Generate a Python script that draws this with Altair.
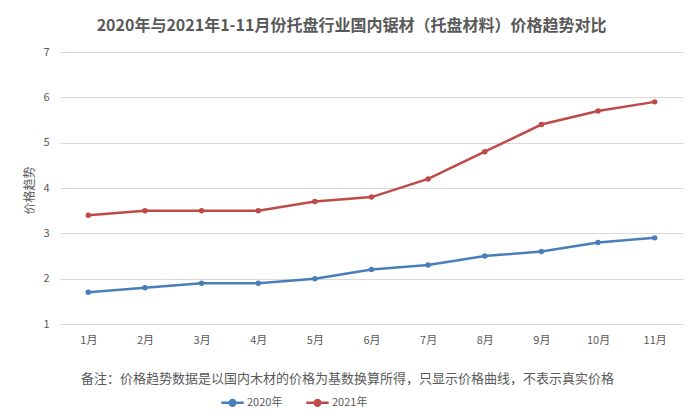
import altair as alt
import pandas as pd

months = ["1月", "2月", "3月", "4月", "5月", "6月", "7月", "8月", "9月", "10月", "11月"]
values_2020 = [1.7, 1.8, 1.9, 1.9, 2.0, 2.2, 2.3, 2.5, 2.6, 2.8, 2.9]
values_2021 = [3.4, 3.5, 3.5, 3.5, 3.7, 3.8, 4.2, 4.8, 5.4, 5.7, 5.9]
y_ticks = [1, 2, 3, 4, 5, 6, 7]
series_names = ["2020年", "2021年"]
colors = ["#4A7EBB", "#BE4B48"]

rows = []
for name, vals in zip(series_names, [values_2020, values_2021]):
    for m, v in zip(months, vals):
        rows.append({"月份": m, "价格": v, "年份": name})
df = pd.DataFrame(rows)

FONT = "Noto Sans CJK SC"
GREY = "#595959"

symbol_path = "M-1,0L1,0 M-0.25,0A0.25,0.25 0 1,1 0.25,0A0.25,0.25 0 1,1 -0.25,0Z"

chart = alt.Chart(df).mark_line(
    strokeWidth=2.5,
    point=alt.OverlayMarkDef(size=30, filled=True),
).encode(
    x=alt.X("月份:N", sort=months, scale=alt.Scale(paddingInner=0, paddingOuter=0),
            axis=alt.Axis(title="备注：价格趋势数据是以国内木材的价格为基数换算所得，只显示价格曲线，不表示真实价格",
                          labelAngle=0, domain=False, ticks=False, grid=False,
                          labelColor=GREY, labelFontSize=11, labelFont=FONT, labelPadding=10,
                          titleX=287, titleY=54, titleBaseline="middle", titleAnchor="middle",
                          titleFont=FONT, titleFontSize=13, titleFontWeight="normal", titleColor=GREY)),
    y=alt.Y("价格:Q", scale=alt.Scale(domain=[1, 7], nice=False),
            axis=alt.Axis(title="价格趋势", values=y_ticks, labelOverlap=False,
                          domain=False, ticks=False, gridColor="#D9D9D9", gridWidth=1,
                          labelColor=GREY, labelFontSize=11, labelFont=FONT, labelPadding=11,
                          titleX=-31, titleY=138, titleAngle=-90, titleBaseline="middle",
                          titleFont=FONT, titleFontSize=12, titleFontWeight="normal", titleColor=GREY)),
    color=alt.Color("年份:N", scale=alt.Scale(domain=series_names, range=colors),
                    legend=alt.Legend(title=None, orient="none", direction="horizontal",
                                      legendX=160, legendY=338, symbolType=symbol_path,
                                      symbolSize=500, symbolStrokeWidth=2.5, symbolFillColor="transparent",
                                      labelFont=FONT, labelFontSize=11, labelColor=GREY,
                                      columnPadding=18, labelOffset=2)),
).properties(
    width=623,
    height=272,
    background="white",
    title=alt.TitleParams("2020年与2021年1-11月份托盘行业国内锯材（托盘材料）价格趋势对比",
                          font=FONT, fontSize=16, fontWeight="bold", color=GREY,
                          anchor="middle", dx=-20, offset=12),
    padding={"left": 52, "top": 44, "right": 8, "bottom": 96},
    autosize=alt.AutoSizeParams(type="none"),
).configure_view(stroke=None)

chart.save("out.html", embed_options={"renderer": "svg", "actions": False})
